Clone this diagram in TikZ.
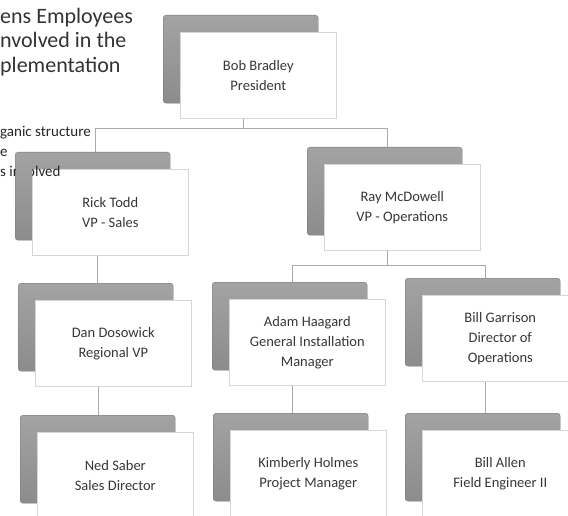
\documentclass[tikz,border=0pt]{standalone}
\usepackage{fontspec}
\setmainfont{Carlito}
\usetikzlibrary{fit,backgrounds,calc}

\definecolor{cardgray}{RGB}{140,140,140}
\definecolor{cardedge}{RGB}{214,214,214}
\definecolor{linkgray}{RGB}{170,170,170}
\definecolor{inkgray}{RGB}{55,55,55}

\tikzset{
  backbox/.style={draw=cardgray!85!black, top color=cardgray!80, bottom color=cardgray,
    rounded corners=3pt, minimum width=155pt, minimum height=88pt,
    inner sep=0pt, line width=0.4pt},
  frontbox/.style={draw=cardedge, fill=white, minimum width=156pt,
    minimum height=86pt, inner sep=2pt, align=center, text=inkgray,
    font=\fontsize{14.5}{20}\selectfont, line width=0.6pt},
  link/.style={draw=linkgray, line width=0.9pt},
  cardgroup/.style={inner sep=0pt}
}

% one org-chart card: name, x and y of the grey back plate, label
\newcommand{\orgcard}[4]{%
  \node[backbox, anchor=north west] (#1-b) at (#2,#3) {};
  \node[frontbox, anchor=north west] (#1-f) at (#2+17,#3+17) {#4};
  \node[cardgroup, fit=(#1-b)(#1-f)] (#1) {};
}

\begin{document}
\begin{tikzpicture}[x=1pt, y=-1pt]
\useasboundingbox (0,0) rectangle (568,516);

% heading at the left edge
\node[anchor=north west, align=left, text=black!80,
      font=\fontsize{22}{24.5}\selectfont, inner sep=0pt] (title) at (0,8)
  {ens Employees\\nvolved in the\\plementation};

\orgcard{pres}{163}{15}{Bob Bradley\\President}
\orgcard{rick}{15}{152}{Rick Todd\\VP - Sales}
\orgcard{ray}{307}{147}{Ray McDowell\\VP - Operations}
\orgcard{dan}{18}{283}{Dan Dosowick\\Regional VP}
\orgcard{adam}{212}{282}{Adam Haagard\\General Installation\\Manager}
\orgcard{bill}{405}{278}{Bill Garrison\\Director of\\Operations}
\orgcard{ned}{20}{415}{Ned Saber\\Sales Director}
\orgcard{kim}{213}{413}{Kimberly Holmes\\Project Manager}
\orgcard{allen}{405}{413}{Bill Allen\\Field Engineer II}

% reporting lines, behind the cards
\begin{pgfonlayer}{background}
  \draw[link] ([xshift=-6pt]pres.south) -- ++(0,10) -| ([xshift=-6pt]rick.north);
  \draw[link] ([xshift=-6pt]pres.south) -- ++(0,10) -| ([xshift=-6pt]ray.north);
  \draw[link] ([xshift=-4pt]rick.south) -- ([xshift=-4pt]rick.south |- dan.north);
  \draw[link] ([xshift=-6pt]ray.south) -- ++(0,15) -| ([xshift=-6pt]adam.north);
  \draw[link] ([xshift=-6pt]ray.south) -- ++(0,15) -| ([xshift=-6pt]bill.north);
  \draw[link] ([xshift=-6pt]dan.south) -- ([xshift=-6pt]dan.south |- ned.north);
  \draw[link] ([xshift=-6pt]adam.south) -- ([xshift=-6pt]adam.south |- kim.north);
  \draw[link] ([xshift=-6pt]bill.south) -- ([xshift=-6pt]bill.south |- allen.north);
\end{pgfonlayer}

% side note, partly hidden by the grey plate of the VP - Sales card
\begin{scope}[even odd rule]
  \clip (-5,-5) rectangle (573,521) (15,150) rectangle (32,245);
  \node[anchor=north west, align=left, text=black!85,
        font=\fontsize{15}{20}\selectfont, inner sep=0pt] (note) at (0,126)
    {ganic structure\\e\\s involved};
\end{scope}
\end{tikzpicture}
\end{document}
